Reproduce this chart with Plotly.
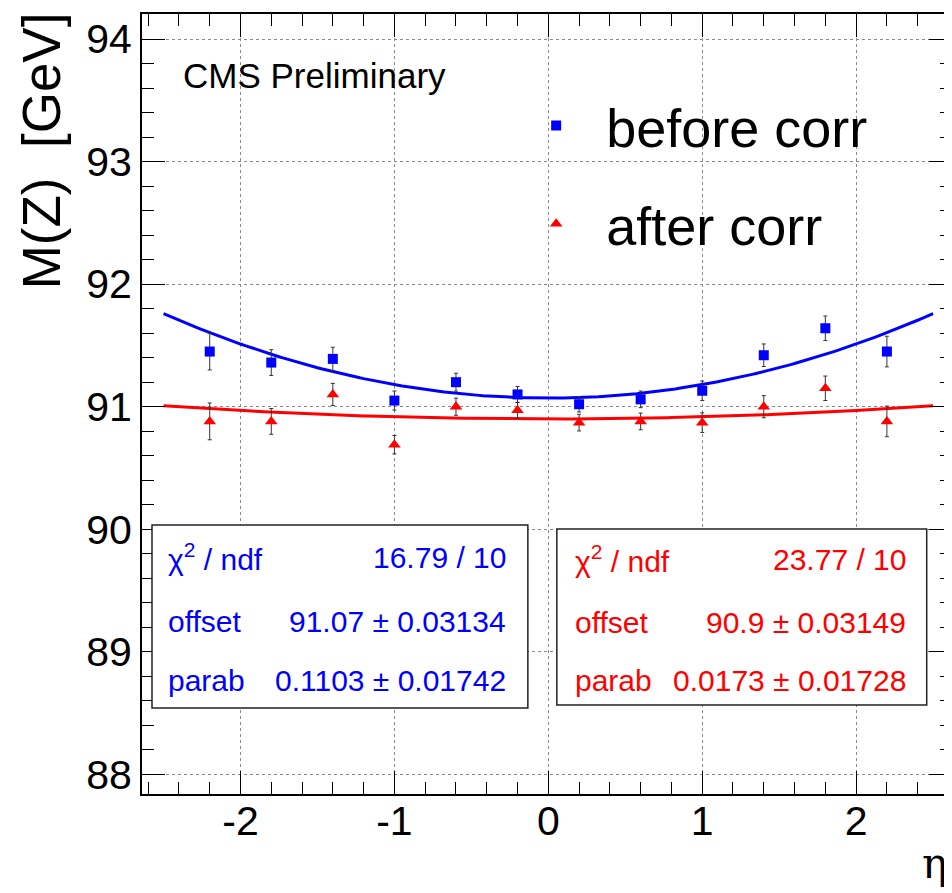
import numpy as np
import plotly.graph_objects as go

# ---------------- data ----------------
eta = [-2.2, -1.8, -1.4, -1.0, -0.6, -0.2, 0.2, 0.6, 1.0, 1.4, 1.8, 2.2]
mz_before = [91.45, 91.36, 91.39, 91.05, 91.20, 91.10, 91.02, 91.06, 91.13, 91.42, 91.64, 91.45]
err_before = [0.15, 0.105, 0.095, 0.078, 0.073, 0.065, 0.063, 0.068, 0.080, 0.092, 0.100, 0.125]
mz_after = [90.88, 90.88, 91.10, 90.69, 91.00, 90.97, 90.87, 90.88, 90.87, 91.00, 91.15, 90.88]
err_after = [0.150, 0.105, 0.090, 0.075, 0.070, 0.065, 0.068, 0.068, 0.080, 0.090, 0.100, 0.125]

# fit results (parabola: offset + parab * eta^2), fit range
fit_before = {"chi2": "16.79 / 10", "offset": 91.07, "offset_err": 0.03134,
              "parab": 0.1103, "parab_err": 0.01742}
fit_after = {"chi2": "23.77 / 10", "offset": 90.9, "offset_err": 0.03149,
             "parab": 0.0173, "parab_err": 0.01728}
fit_range = [-2.5, 2.5]

x_ticks = [-2, -1, 0, 1, 2]
y_ticks = [88, 89, 90, 91, 92, 93, 94]

# ---------------- layout geometry (pixels, page coordinates) ----------------
PAGE_W, PAGE_H = 952, 893
OFF = 8  # default body margin of the html page
L, R, T, B = 141.7, 952.0, 14.0, 794.0
PW, PH = R - L, B - T


def px(x):
    return (x - L) / PW


def py(y):
    return (B - y) / PH


FONT = "Liberation Sans, Arial, Helvetica, sans-serif"
BLUE = "#0000ff"
RED = "#ff0000"

fig = go.Figure()

xf = np.linspace(fit_range[0], fit_range[1], 201)
fig.add_trace(go.Scatter(x=xf, y=fit_before["offset"] + fit_before["parab"] * xf ** 2,
                         mode="lines", line=dict(color=BLUE, width=3), showlegend=False,
                         hoverinfo="skip"))
fig.add_trace(go.Scatter(x=xf, y=fit_after["offset"] + fit_after["parab"] * xf ** 2,
                         mode="lines", line=dict(color=RED, width=3), showlegend=False,
                         hoverinfo="skip"))

fig.add_trace(go.Scatter(
    x=eta, y=mz_before, mode="markers", name="before corr", legendgroup="b",
    marker=dict(symbol="square", size=10, color=BLUE),
    error_y=dict(type="data", array=err_before, color="#333333", thickness=1, width=2)))
fig.add_trace(go.Scatter(
    x=eta, y=mz_after, mode="markers", name="after corr", legendgroup="a",
    marker=dict(symbol="triangle-up", size=11, color=RED),
    error_y=dict(type="data", array=err_after, color="#333333", thickness=1, width=2)))

axis_common = dict(
    showline=True, linecolor="black", linewidth=2, mirror="allticks",
    ticks="inside", ticklen=23, tickwidth=1, tickcolor="black",
    showgrid=True, gridcolor="#8a8a8a", griddash="dot", gridwidth=1,
    zeroline=False,
    tickfont=dict(family=FONT, size=41, color="black"),
)

fig.update_xaxes(range=[-2.64, 2.623], tickvals=x_ticks, ticktext=[str(v) for v in x_ticks],
                 minor=dict(dtick=0.2, tick0=0, ticks="inside", ticklen=12, tickcolor="black",
                            showgrid=False),
                 ticklabelstandoff=-10,
                 **axis_common)
fig.update_yaxes(range=[87.84, 94.204], tickvals=y_ticks, ticktext=[str(v) for v in y_ticks],
                 minor=dict(dtick=0.2, tick0=88, ticks="inside", ticklen=12, tickcolor="black",
                            showgrid=False),
                 **axis_common)

annotations = []
shapes = []

# axis titles
annotations.append(dict(text="M(Z)  [GeV]", x=px(41), y=py(151), xref="paper", yref="paper",
                        textangle=-90, showarrow=False, xanchor="center", yanchor="middle",
                        font=dict(family=FONT, size=53, color="black")))
annotations.append(dict(text="η", x=px(949), y=py(864), xref="paper", yref="paper",
                        showarrow=False, xanchor="right", yanchor="middle",
                        font=dict(family="DejaVu Serif, Liberation Serif, serif", size=42,
                                  color="black")))
annotations.append(dict(text="CMS Preliminary", x=px(181), y=py(75), xref="paper", yref="paper",
                        showarrow=False, xanchor="left", yanchor="middle",
                        font=dict(family=FONT, size=35, color="black")))


def stats_box(x0, x1, y0, y1, tx0, tx1, rows_y, fit, color):
    shapes.append(dict(type="rect", xref="paper", yref="paper",
                       x0=px(x0), x1=px(x1), y0=py(y1), y1=py(y0),
                       line=dict(color="#222222", width=1.5), fillcolor="white", layer="above"))
    labels = ["χ<sup>2</sup> / ndf", "offset", "parab"]
    values = [fit["chi2"],
              f"{fit['offset']:g} ± {fit['offset_err']:g}",
              f"{fit['parab']:g} ± {fit['parab_err']:g}"]
    for lab, val, yy in zip(labels, values, rows_y):
        annotations.append(dict(text=lab, x=px(tx0), y=py(yy), xref="paper", yref="paper",
                                showarrow=False, xanchor="left", yanchor="middle",
                                font=dict(family=FONT, size=30, color=color)))
        annotations.append(dict(text=val, x=px(tx1), y=py(yy), xref="paper", yref="paper",
                                showarrow=False, xanchor="right", yanchor="middle",
                                font=dict(family=FONT, size=30, color=color)))


stats_box(151.7, 527.7, 525, 708, 166, 508, [557, 621, 680], fit_before, BLUE)
stats_box(556.7, 926.7, 529, 705, 573, 908, [559, 622, 680], fit_after, RED)

fig.update_layout(
    width=PAGE_W - OFF, height=PAGE_H - OFF,
    margin=dict(l=L - OFF, r=PAGE_W - R, t=T - OFF, b=PAGE_H - B, autoexpand=False),
    paper_bgcolor="white", plot_bgcolor="white",
    showlegend=True,
    legend=dict(x=px(506), y=py(84), xanchor="left", yanchor="top",
                font=dict(family=FONT, size=54, color="black"),
                bgcolor="rgba(0,0,0,0)", borderwidth=0, tracegroupgap=25,
                itemwidth=90),
    annotations=annotations, shapes=shapes,
)

fig.write_html("out.html")
